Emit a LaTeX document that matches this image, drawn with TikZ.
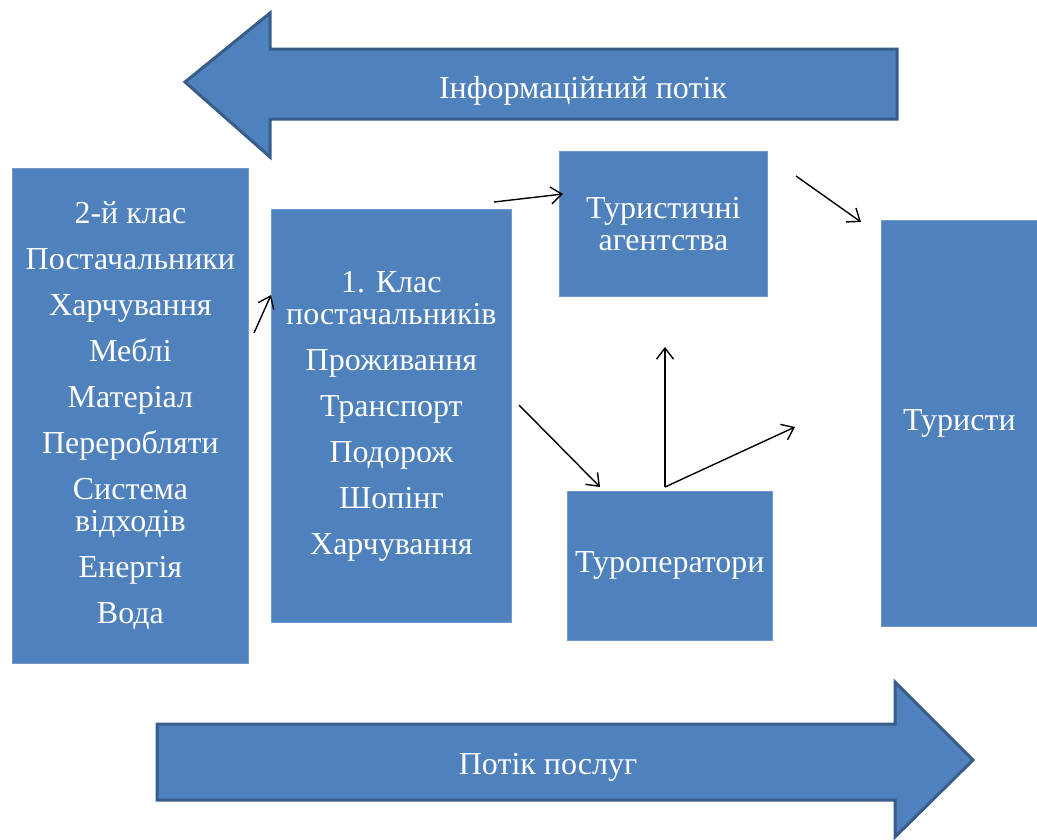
\documentclass[tikz,border=0pt]{standalone}
\usepackage{fontspec}
\setmainfont{Liberation Serif}
\usetikzlibrary{arrows.meta}
\definecolor{boxblue}{HTML}{4F81BD}
\definecolor{edgeblue}{HTML}{385D8A}
\tikzset{
  block/.style={fill=boxblue, draw=boxblue!80!white, line width=0.8pt, anchor=north west,
    inner sep=0pt, text=white, align=center, font=\fontsize{32}{32}\selectfont},
  flow/.style={fill=boxblue, draw=edgeblue, line width=3pt, line join=miter},
  flowtext/.style={text=white, font=\fontsize{32}{32}\selectfont},
  link/.style={line width=1.4pt, -{Straight Barb[length=11pt,width=17pt]}},
}
\begin{document}
\begin{tikzpicture}[x=1pt,y=-1pt]%
\useasboundingbox (0,0) rectangle (1037,839);%
% block arrows
\draw[flow] (185,82) -- (270,13) -- (270,49) -- (897,49) -- (897,119) -- (270,119) -- (270,157) -- cycle;%
\node[flowtext] (infoflow) at (583,91) {Інформаційний потік};%
\draw[flow] (157,724) -- (895,724) -- (895,682) -- (973,760) -- (895,837) -- (895,800) -- (157,800) -- cycle;%
\node[flowtext] (serviceflow) at (548,767) {Потік послуг};%
% boxes
\node[block, minimum width=236pt, minimum height=495pt] (klas2) at (12,168)
  {2-й клас\\[14pt] Постачальники\\[14pt] Харчування\\[14pt] Меблі\\[14pt] Матеріал\\[14pt]
   Переробляти\\[14pt] Система\\ відходів\\[14pt] Енергія\\[14pt] Вода};%
\node[block, minimum width=240pt, minimum height=413pt] (klas1) at (271,209)
  {1. Клас\\ постачальників\\[14pt] Проживання\\[14pt] Транспорт\\[14pt] Подорож\\[14pt]
   Шопінг\\[14pt] Харчування};%
\node[block, minimum width=208pt, minimum height=145pt] (agency) at (559,151) {Туристичні\\ агентства};%
\node[block, minimum width=205pt, minimum height=149pt] (operator) at (567,491) {Туроператори};%
\node[block, minimum width=156pt, minimum height=406pt] (tourist) at (881,220) {Туристи};%
% connectors
\coordinate (k2out) at (254,333);%
\coordinate (k1in) at (271,295);%
\coordinate (k1top) at (494,202);%
\coordinate (agin) at (563,194);%
\coordinate (k1side) at (519,405);%
\coordinate (opin) at (600,487);%
\coordinate (opout) at (665,487);%
\coordinate (upend) at (665,347);%
\coordinate (rightend) at (795,427);%
\coordinate (agout) at (796,176);%
\coordinate (tourin) at (861,222);%
\draw[link] (k2out) -- (k1in);%
\draw[link] (k1top) -- (agin);%
\draw[link] (k1side) -- (opin);%
\draw[link] (opout) -- (upend);%
\draw[link] (opout) -- (rightend);%
\draw[link] (agout) -- (tourin);%
\end{tikzpicture}
\end{document}
